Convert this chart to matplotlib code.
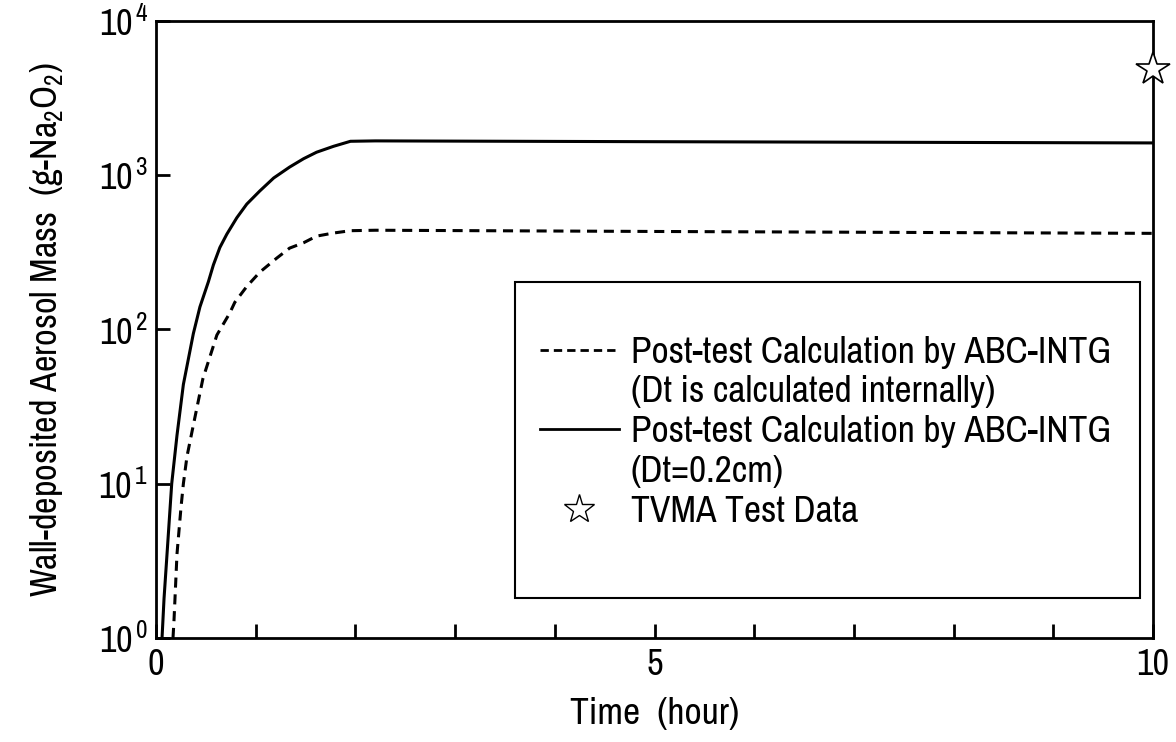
import numpy as np
import matplotlib
matplotlib.use("Agg")
import matplotlib.pyplot as plt
from matplotlib.lines import Line2D
from matplotlib.patches import Rectangle

# ============================================================
# DATA
# ============================================================

# solid curve: Dt = 0.2 cm
t_solid = [0.06, 0.08, 0.11, 0.157, 0.21, 0.274, 0.374, 0.44, 0.525, 0.575,
           0.64, 0.71, 0.81, 0.91, 1.04, 1.18, 1.34, 1.48, 1.61, 1.78,
           1.95, 2.2, 5.0, 10.0]
m_solid = [1.0, 1.8, 3.5, 10, 20.6, 44, 94, 140, 204, 262,
           340, 415, 530, 650, 790, 960, 1130, 1280, 1410, 1540,
           1660, 1670, 1650, 1620]

# dashed curve: Dt calculated internally
t_dash = [0.17, 0.18, 0.21, 0.25, 0.274, 0.31, 0.374, 0.47, 0.61, 0.74,
          0.79, 0.91, 1.04, 1.21, 1.34, 1.48, 1.61, 1.78, 1.95, 2.2,
          5.0, 10.0]
m_dash = [1.0, 1.3, 3.5, 7, 10, 15, 24, 48, 92, 128,
          150, 190, 235, 290, 337, 365, 403, 422, 437, 440,
          432, 420]

# test data point
t_test = [10.0]
m_test = [4900]

x_ticks = list(range(0, 11))
x_ticklabels = ["0", "", "", "", "", "5", "", "", "", "", "10"]
y_ticks = [1, 10, 100, 1000, 10000]
y_ticklabels = [r"$10^{\,0}$", r"$10^{\,1}$", r"$10^{\,2}$", r"$10^{\,3}$", r"$10^{\,4}$"]

# ============================================================
# STYLE
# ============================================================

font = "Archivo Narrow"
plt.rcParams["font.family"] = [font, "DejaVu Sans"]
plt.rcParams["mathtext.fontset"] = "custom"
plt.rcParams["mathtext.rm"] = font
plt.rcParams["mathtext.it"] = font
plt.rcParams["mathtext.bf"] = font

fig = plt.figure(figsize=(11.76, 7.42), dpi=100)
ax = fig.add_axes([0.1327, 0.1402, 0.8477, 0.8315])

# ============================================================
# CURVES
# ============================================================

ax.plot(t_dash, m_dash, color="black", lw=2.2, linestyle=(0, (3.3, 2.2)))
ax.plot(t_solid, m_solid, color="black", lw=2.2)
ax.plot(t_test, m_test, linestyle="none", marker="*", markersize=25,
        markerfacecolor="white", markeredgecolor="black", markeredgewidth=1.2,
        clip_on=False, zorder=5)

# ============================================================
# AXES
# ============================================================

ax.set_yscale("log")
ax.set_xlim(0, 10)
ax.set_ylim(1, 10000)

ax.set_xticks(x_ticks)
ax.set_xticklabels(x_ticklabels)
ax.set_yticks(y_ticks)
ax.set_yticklabels(y_ticklabels)
ax.yaxis.set_minor_locator(matplotlib.ticker.NullLocator())

ax.tick_params(direction="in", length=10, width=2, labelsize=26,
               top=False, right=False)
ax.tick_params(axis="x", pad=7)
ax.tick_params(axis="y", pad=6)

for s in ax.spines.values():
    s.set_linewidth(2.0)

ax.set_xlabel("Time  (hour)", fontsize=27, labelpad=12)
ax.set_ylabel(r"Wall-deposited Aerosol Mass  (g-Na$_2$O$_2$)", fontsize=26,
              labelpad=24)

# ============================================================
# LEGEND
# ============================================================

blank = Line2D([], [], linestyle="none")
handles = [
    Line2D([], [], color="black", lw=2.0, linestyle=(0, (3.0, 1.8))),
    blank,
    Line2D([], [], color="black", lw=2.0),
    blank,
    Line2D([], [], linestyle="none", marker="*", markersize=22,
           markerfacecolor="white", markeredgecolor="black",
           markeredgewidth=1.0),
]
labels = [
    "Post-test Calculation by ABC-INTG",
    "(Dt is calculated internally)",
    "Post-test Calculation by ABC-INTG",
    "(Dt=0.2cm)",
    "TVMA Test Data",
]

leg = ax.legend(handles, labels, loc="upper left",
                bbox_to_anchor=(0.385, 0.49), fontsize=27,
                frameon=False, handlelength=2.1, handletextpad=0.32,
                labelspacing=0.18, borderpad=0.0, borderaxespad=0.0)

# legend box drawn separately (padding is uneven in the original)
ax.add_patch(Rectangle((0.36, 0.0648), 0.627, 0.512, transform=ax.transAxes,
                       fill=False, edgecolor="black", lw=1.5, zorder=4))

fig.savefig("out.png", dpi=100)
